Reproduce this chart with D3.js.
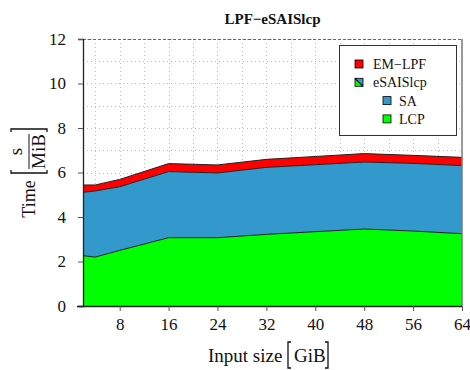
<!DOCTYPE html>
<html>
<head>
<meta charset="utf-8">
<script src="https://cdn.jsdelivr.net/npm/d3@7"></script>
<style>
  body { margin: 0; background: #fff; }
  svg, svg text { font-family: "Liberation Serif", "Times New Roman", serif !important; }
</style>
</head>
<body>
<div id="chart"></div>
<script>
  // input sizes in GiB
  var sizes = [2, 4, 8, 16, 24, 32, 40, 48, 56, 64];
  // time per MiB, stacked: LCP, SA, EM-LPF
  var lcp   = [2.26, 2.20, 2.50, 3.07, 3.07, 3.22, 3.34, 3.46, 3.37, 3.25];
  var sa    = [2.85, 2.97, 2.86, 2.97, 2.91, 3.01, 3.01, 3.01, 3.04, 3.06];
  var emlpf = [0.33, 0.27, 0.33, 0.36, 0.36, 0.36, 0.37, 0.38, 0.36, 0.37];
  var series = ["LCP", "SA", "EM\u2212LPF"];
  var colors = {"LCP": "#00ff00", "SA": "#3399cc", "EM\u2212LPF": "#ff0000"};
  var xTicks = [8, 16, 24, 32, 40, 48, 56, 64];
  var yTicks = [0, 2, 4, 6, 8, 10, 12];

  var W = 470, H = 370;
  var m = {left: 83, right: 8, top: 39, bottom: 64};
  var w = W - m.left - m.right, h = H - m.top - m.bottom;

  var svg = d3.select("#chart").append("svg").attr("width", W).attr("height", H);
  var g = svg.append("g").attr("transform", "translate(" + m.left + "," + m.top + ")");

  var x = d3.scaleLinear().domain([2, 64]).range([0, w]);
  var y = d3.scaleLinear().domain([0, 12]).range([h, 0]);

  // grid (dotted)
  g.append("g").selectAll("line").data(d3.range(1, 13)).enter().append("line")
    .attr("x1", 0).attr("x2", w)
    .attr("y1", (d) => Math.round(y(d)) + 0.5).attr("y2", (d) => Math.round(y(d)) + 0.5)
    .attr("stroke", "#bbb").attr("stroke-dasharray", "1,3");
  g.append("g").selectAll("line").data(d3.range(4, 64, 4)).enter().append("line")
    .attr("y1", 0).attr("y2", h)
    .attr("x1", (d) => Math.round(x(d)) + 0.5).attr("x2", (d) => Math.round(x(d)) + 0.5)
    .attr("stroke", "#bbb").attr("stroke-dasharray", "1,3");

  // stacked areas
  var table = sizes.map((s, i) => ({size: s, "LCP": lcp[i], "SA": sa[i], "EM\u2212LPF": emlpf[i]}));
  var stack = d3.stack().keys(series)(table);
  var area = d3.area().x((d) => x(d.data.size)).y0((d) => y(d[0])).y1((d) => y(d[1]));
  var line = d3.line().x((d) => x(d.data.size)).y((d) => y(d[1]));
  g.append("g").selectAll("path").data(stack).enter().append("path")
    .attr("d", area).attr("fill", (d) => colors[d.key]);
  g.append("g").selectAll("path").data(stack).enter().append("path")
    .attr("d", line).attr("fill", "none").attr("stroke", "#222").attr("stroke-width", 1);

  // frame: top dashed, right grey
  g.append("line").attr("x1", 0).attr("x2", w).attr("y1", 0.5).attr("y2", 0.5)
    .attr("stroke", "#666").attr("stroke-dasharray", "3,2");
  g.append("line").attr("x1", w).attr("x2", w).attr("y1", 0).attr("y2", h)
    .attr("stroke", "#777").attr("stroke-width", 1.5);

  // axes
  var yAxis = g.append("g").call(d3.axisLeft(y).tickValues(yTicks).tickSize(5).tickPadding(12));
  var xAxis = g.append("g").attr("transform", "translate(0," + h + ")")
    .call(d3.axisBottom(x).tickValues(xTicks).tickSize(5).tickPadding(7));
  [xAxis, yAxis].forEach(function (a) {
    a.attr("font-family", null);
    a.select(".domain").attr("stroke", "#222").attr("stroke-width", 1.3);
    a.selectAll(".tick line").attr("stroke", "#555");
    a.selectAll("text").attr("font-size", 17).attr("fill", "#111");
  });
  xAxis.select(".domain").attr("d", "M-6,0.5H" + w);

  // title
  svg.append("text").attr("x", m.left + w / 2).attr("y", 24).attr("text-anchor", "middle")
    .attr("font-weight", "bold").attr("font-size", 15).attr("fill", "#111")
    .text("LPF\u2212eSAISlcp");

  // x axis label: Input size [GiB]
  var xl = svg.append("g").attr("transform", "translate(208,362)").attr("fill", "#111");
  xl.append("text").attr("x", 0).attr("y", 0).attr("font-size", 19).text("Input size");
  xl.append("path").attr("d", "M83,6 h-3 v-26 h3").attr("fill", "none").attr("stroke", "#111").attr("stroke-width", 1.3);
  xl.append("text").attr("x", 86).attr("y", 0).attr("font-size", 19).text("GiB");
  xl.append("path").attr("d", "M117,6 h3 v-26 h-3").attr("fill", "none").attr("stroke", "#111").attr("stroke-width", 1.3);

  // y axis label: Time [s / MiB]
  var yl = svg.append("g").attr("transform", "translate(29,173) rotate(-90)").attr("fill", "#111");
  yl.append("text").attr("x", -26).attr("y", 6).attr("text-anchor", "middle").attr("font-size", 18).text("Time");
  yl.append("path").attr("d", "M3,-18 h-3 v36 h3").attr("fill", "none").attr("stroke", "#111").attr("stroke-width", 1.3);
  yl.append("text").attr("x", 21.5).attr("y", -7).attr("text-anchor", "middle").attr("font-size", 19).text("s");
  yl.append("line").attr("x1", 4).attr("x2", 39).attr("y1", 0).attr("y2", 0).attr("stroke", "#111").attr("stroke-width", 1);
  yl.append("text").attr("x", 21.5).attr("y", 16).attr("text-anchor", "middle").attr("font-size", 19).text("MiB");
  yl.append("path").attr("d", "M41,-18 h3 v36 h-3").attr("fill", "none").attr("stroke", "#111").attr("stroke-width", 1.3);

  // legend
  var lg = svg.append("g").attr("transform", "translate(339,45)");
  lg.append("rect").attr("x", 0.5).attr("y", 0.5).attr("width", 117).attr("height", 90)
    .attr("fill", "#fff").attr("stroke", "#333");
  var items = [
    {label: "EM\u2212LPF", sx: 16, tx: 34, c: colors["EM\u2212LPF"]},
    {label: "eSAISlcp", sx: 16, tx: 34, split: true},
    {label: "SA", sx: 44, tx: 60, c: colors["SA"]},
    {label: "LCP", sx: 44, tx: 60, c: colors["LCP"]}
  ];
  var rows = lg.selectAll("g.item").data(items).enter().append("g").attr("class", "item")
    .attr("transform", (d, i) => "translate(0," + (19 + i * 18.3) + ")");
  rows.each(function (d) {
    var r = d3.select(this);
    if (d.split) {
      r.append("path").attr("d", "M" + d.sx + ",-4 L" + (d.sx + 8) + ",4 L" + d.sx + ",4 Z").attr("fill", colors["LCP"]);
      r.append("path").attr("d", "M" + d.sx + ",-4 L" + (d.sx + 8) + ",-4 L" + (d.sx + 8) + ",4 Z").attr("fill", colors["SA"]);
      r.append("line").attr("x1", d.sx).attr("y1", -4).attr("x2", d.sx + 8).attr("y2", 4).attr("stroke", "#000").attr("stroke-width", 1.2);
      r.append("rect").attr("x", d.sx).attr("y", -4).attr("width", 8).attr("height", 8)
        .attr("fill", "none").attr("stroke", "#000").attr("stroke-width", 0.8);
    } else {
      r.append("rect").attr("x", d.sx).attr("y", -4).attr("width", 8).attr("height", 8)
        .attr("fill", d.c).attr("stroke", "#000").attr("stroke-width", 0.8);
    }
    r.append("text").attr("x", d.tx).attr("y", 5).attr("font-size", 14).attr("fill", "#111").text(d.label);
  });
</script>
</body>
</html>
